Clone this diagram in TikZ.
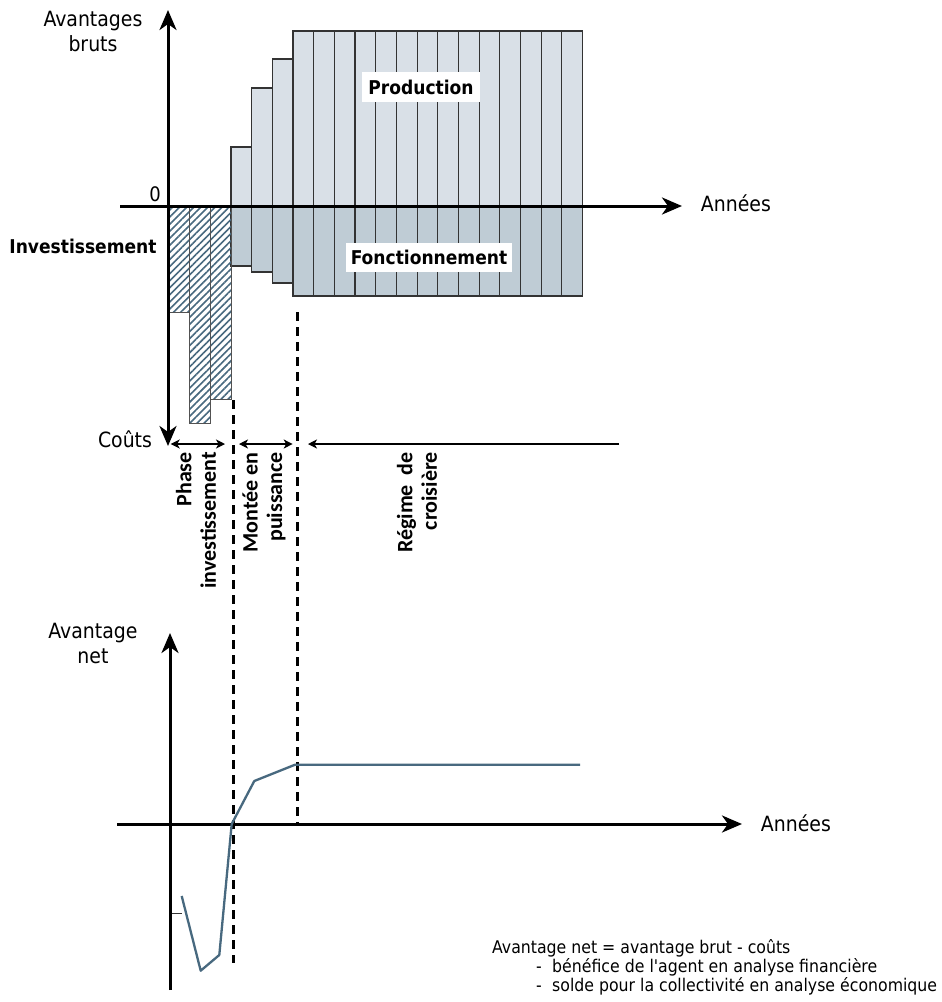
\documentclass[tikz,border=0pt]{standalone}
\usepackage{fontspec}
\setmainfont{DejaVu Sans Condensed}
\newfontfamily\phasefont{Carlito}
\usetikzlibrary{arrows.meta,patterns.meta}
\definecolor{prodfill}{HTML}{D9E0E7}
\definecolor{fonctfill}{HTML}{BFCCD5}
\definecolor{steel}{HTML}{48697F}
\definecolor{edge}{HTML}{333333}
\begin{document}
\begin{tikzpicture}[x=1pt,y=-1pt,
  bigtip/.tip={Stealth[length=20pt,width=17pt,inset=6pt]},
  smalltip/.tip={Stealth[length=9pt,width=9pt,inset=2.5pt]},
  axis/.style={line width=3pt},
  prodbar/.style={fill=prodfill,draw=edge,line width=1.1pt},
  fonctbar/.style={fill=fonctfill,draw=edge,line width=1.1pt},
  invbar/.style={draw=edge!85,line width=0.9pt,
    pattern={Lines[angle=45,distance=5pt,line width=1.6pt]},pattern color=steel},
  phasearrow/.style={line width=1.3pt},
  limit/.style={line width=3pt,dash pattern=on 9pt off 6pt},
  netcurve/.style={steel,line width=2.3pt,line join=round},
  label/.style={inner sep=0pt,font=\fontsize{21}{25}\selectfont},
  boldlabel/.style={inner sep=0pt,font=\bfseries\fontsize{19}{23}\selectfont},
  boxlabel/.style={fill=white,inner sep=0pt,font=\bfseries\fontsize{19}{23}\selectfont},
  phase/.style={rotate=90,anchor=east,align=right,inner sep=0pt,
    font=\phasefont\bfseries\fontsize{22}{24.3}\selectfont},
]
\useasboundingbox[fill=white] (0,0) rectangle (942,1002);

% ---- gross benefits: production (above) and operating costs (below)
\def\w{20.68}
\draw[prodbar] (231,147) rectangle ++(\w,59);
\draw[prodbar] (231+\w,88) rectangle ++(\w,118);
\draw[prodbar] (231+2*\w,59) rectangle ++(\w,147);
\draw[fonctbar] (231,206) rectangle ++(\w,60);
\draw[fonctbar] (231+\w,206) rectangle ++(\w,66);
\draw[fonctbar] (231+2*\w,206) rectangle ++(\w,77);
\foreach \i in {0,...,13}{
  \draw[prodbar] ({293+\i*\w},31) rectangle ++(\w,175);
  \draw[fonctbar] ({293+\i*\w},206) rectangle ++(\w,90);
}

% ---- investment costs (hatched)
\draw[invbar] (168,206) rectangle (189,312);
\draw[invbar] (189,206) rectangle (210,423);
\draw[invbar] (210,206) rectangle (231,399);

% ---- upper axes
\coordinate (ytop) at (168,10);
\coordinate (ybot) at (168,446);
\coordinate (xl) at (120,206);
\coordinate (xr) at (682,206);
\draw[axis,{bigtip}-{bigtip}] (ybot) -- (ytop);
\draw[axis,-{bigtip}] (xl) -- (xr);

% ---- phase limits
\coordinate (d1a) at (233,400);
\coordinate (d1b) at (233,963);
\coordinate (d2a) at (297,312);
\coordinate (d2b) at (297,824);
\draw[limit] (d1a) -- (d1b);
\draw[limit] (d2a) -- (d2b);

% ---- phase spans
\coordinate (p1a) at (170.7,444);
\coordinate (p1b) at (225,444);
\coordinate (p2a) at (239,444);
\coordinate (p2b) at (292.7,444);
\coordinate (p3a) at (619,444);
\coordinate (p3b) at (308,444);
\draw[phasearrow,{smalltip}-{smalltip}] (p1a) -- (p1b);
\draw[phasearrow,{smalltip}-{smalltip}] (p2a) -- (p2b);
\draw[phasearrow,-{smalltip}] (p3a) -- (p3b);

\node[phase] (phInv) at (196,452) {Phase\\investissement};
\node[phase] (phMont) at (264,452) {Montée en\\puissance};
\node[phase] (phReg) at (417,452) {Régime\ \ de\\croisière};

% ---- upper labels
\node[label,align=center] (lbBruts) at (93,31) {Avantages\\bruts};
\node[inner sep=0pt,font=\fontsize{20}{24}\selectfont] (lbZero) at (155,194) {0};
\node[boldlabel] (lbInv) at (83,246) {Investissement};
\node[label,anchor=base] (lbCouts) at (125,447.3) {Coûts};
\node[label,anchor=base west] (lbAnnees1) at (700.7,211.7) {Années};
\node[boxlabel,minimum width=118pt,minimum height=30pt] (lbProd) at (421,87) {Production};
\node[boxlabel,minimum width=166pt,minimum height=29pt] (lbFonct) at (429,257.5) {Fonctionnement};

% ---- lower axes: net benefit
\coordinate (ny0) at (170,990);
\coordinate (ny1) at (170,633);
\coordinate (nx0) at (117,824);
\coordinate (nx1) at (742,824);
\draw[axis,-{bigtip}] (ny0) -- (ny1);
\draw[axis,-{bigtip}] (nx0) -- (nx1);
\coordinate (tk0) at (172,913);
\coordinate (tk1) at (182,913);
\draw[gray!40!black,line width=0.9pt] (tk0) -- (tk1);

\coordinate (c1) at (181.7,896);
\coordinate (c2) at (200.7,970.7);
\coordinate (c3) at (219.3,955);
\coordinate (c4) at (231.7,824);
\coordinate (c5) at (254.3,781);
\coordinate (c6) at (295,764.7);
\coordinate (c7) at (580,764.7);
\draw[netcurve] (c1) -- (c2) -- (c3) -- (c4) -- (c5) -- (c6) -- (c7);

\node[label,align=center] (lbNet) at (93,643) {Avantage\\net};
\node[label,anchor=base west] (lbAnnees2) at (760.7,831.7) {Années};

\node[anchor=north west,align=left,inner sep=0pt,font=\fontsize{17.5}{19}\selectfont] (note) at (492,939.5)
  {Avantage net = avantage brut - coûts\\
   \hspace*{44pt}\makebox[16pt][l]{-}bénéfice de l\textquotesingle agent en analyse financière\\
   \hspace*{44pt}\makebox[16pt][l]{-}solde pour la collectivité en analyse économique};
\end{tikzpicture}
\end{document}
